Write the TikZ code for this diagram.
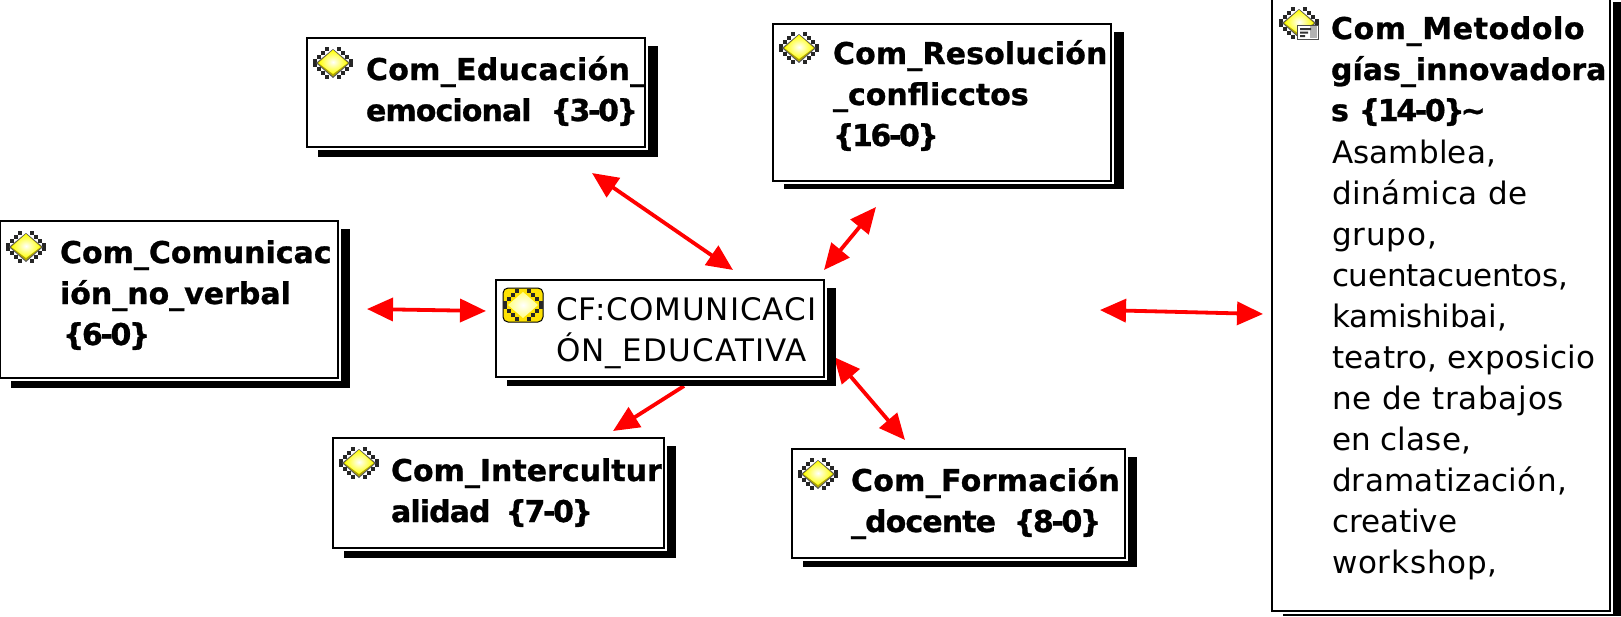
\documentclass[tikz,border=0pt]{standalone}
\usepackage{fontspec}
\setmainfont{DejaVu Sans}[BoldFeatures={FakeBold=0.9}]
\usetikzlibrary{arrows.meta,shapes.geometric}
\tikzset{
  framebox/.style={draw=black,line width=2.4pt,fill=white,inner sep=0pt,outer sep=0pt,rectangle},
  shadowbox/.style={fill=black,draw=none,inner sep=0pt,outer sep=0pt,rectangle},
  titletext/.style={anchor=north west,inner sep=0pt,outer sep=0pt,align=left,font=\fontsize{30}{41}\selectfont\bfseries},
  plaintext/.style={anchor=north west,inner sep=0pt,outer sep=0pt,align=left,font=\fontsize{31}{41}\selectfont},
  biarrow/.style={draw=red,line width=3.8pt,{Triangle[length=26pt,width=23pt]}-{Triangle[length=26pt,width=23pt]}},
  oneArrow/.style={draw=red,line width=3.8pt,-{Triangle[length=26pt,width=23pt]}},
}
\newcommand{\fr}{\rule{0pt}{24pt}}
\newcommand{\ls}[2]{{\addfontfeature{LetterSpace=#1}#2}}
\newcommand{\dg}[1]{\ls{-8}{\{#1\}}}
% name x1 y1 x2 y2 sx2 sy2
\newcommand{\cbox}[7]{%
  \pgfmathsetmacro{\cx}{(#2+#4)/2}\pgfmathsetmacro{\cy}{(#3+#5)/2}%
  \pgfmathsetmacro{\bw}{#4-#2}\pgfmathsetmacro{\bh}{#5-#3}%
  \pgfmathsetmacro{\scx}{(#2+11+#6)/2}\pgfmathsetmacro{\scy}{(#3+8+#7)/2}%
  \pgfmathsetmacro{\sw}{#6-#2-11}\pgfmathsetmacro{\sh}{#7-#3-8}%
  \node[shadowbox,minimum width=\sw pt,minimum height=\sh pt] (#1s) at (\scx,\scy) {};
  \fill[white] (#2-2,#3-2) rectangle (#4+3,#5+3);
  \node[framebox,minimum width=\bw pt,minimum height=\bh pt] (#1) at (\cx,\cy) {};
}
\newcommand{\checks}[2]{%
  \foreach \i in {-5,...,4}{\foreach \j in {-4,...,3}{%
    \pgfmathparse{int(mod(floor(abs(\i+.5))+floor(abs(\j+.5)),2)==0 && (abs(\i+.5)*4/20+abs(\j+.5)*4/17)>=#1 && (abs(\i+.5)*4/20+abs(\j+.5)*4/17)<=#2 ? 1:0)}%
    \ifnum\pgfmathresult=1 \fill[black!85] (\i*4,\j*4) rectangle ++(4,4);\fi}}}
\newcommand{\gem}[2]{%
  \begin{scope}[shift={(#1,#2)}]
    \checks{0.75}{1.45}
    \path[fill=black!65] (-17,0)--(0,-14)--(17,0)--(0,15)--cycle;
    \path[fill=olive!70!yellow] (-15.5,0)--(0,-13)--(15.5,0)--(0,13.5)--cycle;
    \path[inner color=white,outer color=yellow] (-14.5,0)--(0,-13)--(14.5,0)--(0,11)--cycle;
  \end{scope}}
\newcommand{\cfgem}[2]{%
  \begin{scope}[shift={(#1,#2)}]
    \fill[yellow!85!orange,draw=black,line width=1pt,rounded corners=5pt] (-20,-17) rectangle (20,17);
    \checks{0.7}{1.25}
    \path[inner color=white,outer color=yellow!50] (-15,0)--(0,-13)--(15,0)--(0,13)--cycle;
  \end{scope}}
\begin{document}
\begin{tikzpicture}[x=1pt,y=-1pt]
\useasboundingbox (0,0) rectangle (1621,616);
\fill[white] (0,0) rectangle (1621,616);

\coordinate (eduA) at (592,173); \coordinate (eduB) at (733,270);
\coordinate (resA) at (876,207); \coordinate (resB) at (824,270);
\coordinate (comA) at (367,309); \coordinate (comB) at (486,311);
\coordinate (metA) at (1100,310); \coordinate (metB) at (1263,314);
\coordinate (intA) at (684,386); \coordinate (intB) at (613,431);
\coordinate (forA) at (834,357); \coordinate (forB) at (905,440);

\draw[biarrow] (eduA) -- (eduB);
\draw[biarrow] (resA) -- (resB);
\draw[biarrow] (comA) -- (comB);
\draw[biarrow] (metA) -- (metB);
\draw[oneArrow] (intA) -- (intB);
\draw[biarrow] (forA) -- (forB);

\cbox{edu}{307}{38}{645}{147}{658}{157}
\gem{333}{63}
\begin{scope}\clip (edu.north west) rectangle (edu.south east);
\node[titletext] (eduT) at (366,56) {\fr \ls{1}{Com\_Educación\_}\\\ls{-3}{emocional}\hspace{19pt}\dg{3-0}};
\end{scope}

\cbox{res}{773}{24}{1111}{181}{1124}{189}
\gem{799}{48}
\begin{scope}\clip (res.north west) rectangle (res.south east);
\node[titletext] (resT) at (833,40) {\fr \ls{0.5}{Com\_Resolución}\\\_conflicctos\\\dg{16-0}};
\end{scope}

\cbox{com}{0}{221}{338}{378}{350}{388}
\gem{26}{247}
\begin{scope}\clip (com.north west) rectangle (com.south east);
\node[titletext] (comT) at (60,239) {\fr Com\_Comunicac\\ión\_no\_verbal\\\hspace{3pt}\dg{6-0}};
\end{scope}

\cbox{int}{333}{438}{664}{548}{676}{558}
\gem{359}{463}
\begin{scope}\clip (int.north west) rectangle (int.south east);
\node[titletext] (intT) at (391,457) {\fr Com\_Intercultur\\\ls{-3}{alidad}\hspace{15pt}\dg{7-0}};
\end{scope}

\cbox{for}{792}{449}{1125}{558}{1137}{567}
\gem{818}{474}
\begin{scope}\clip (for.north west) rectangle (for.south east);
\node[titletext] (forT) at (851,467) {\fr \ls{1}{Com\_Formación}\\\ls{-3}{\_docente}\hspace{18pt}\dg{8-0}};
\end{scope}

\cbox{cf}{496}{280}{824}{377}{836}{386}
\cfgem{523}{305}
\begin{scope}\clip (cf.north west) rectangle (cf.south east);
\node[plaintext] (cfT) at (556,296) {\fr \ls{3.2}{CF:COMUNICACI}\\\ls{3.8}{ÓN\_EDUCATIVA}};
\end{scope}

\cbox{met}{1272}{-6}{1610}{611}{1621}{616}
\gem{1299}{23}
\fill[white,draw=black!70,line width=.8pt] (1297,25) rectangle (1318,39);
\fill[black!30] (1310,26) rectangle (1317,38);
\fill[black!80] (1300,28) rectangle (1311,30) (1300,31.5) rectangle (1308,33.5) (1300,35) rectangle (1305,37);
\begin{scope}\clip (met.north west) rectangle (met.south east);
\node[titletext] (metT) at (1331,15) {\fr \ls{2}{Com\_Metodolo}\\gías\_innovadora\\s\hspace{10pt}\dg{14-0}\hspace{-4pt}\textasciitilde};
\node[plaintext] (metB2) at (1332,139) {\fr \ls{0.6}{Asamblea,}\\\ls{1.8}{dinámica de}\\\ls{3}{grupo,}\\\ls{-0.7}{cuentacuentos,}\\\ls{-0.6}{kamishibai,}\\\ls{1.2}{teatro, exposicio}\\\ls{2.5}{ne de trabajos}\\\ls{0.4}{en clase,}\\\ls{1}{dramatización,}\\creative\\\ls{2.5}{workshop,}};
\end{scope}
\end{tikzpicture}
\end{document}
